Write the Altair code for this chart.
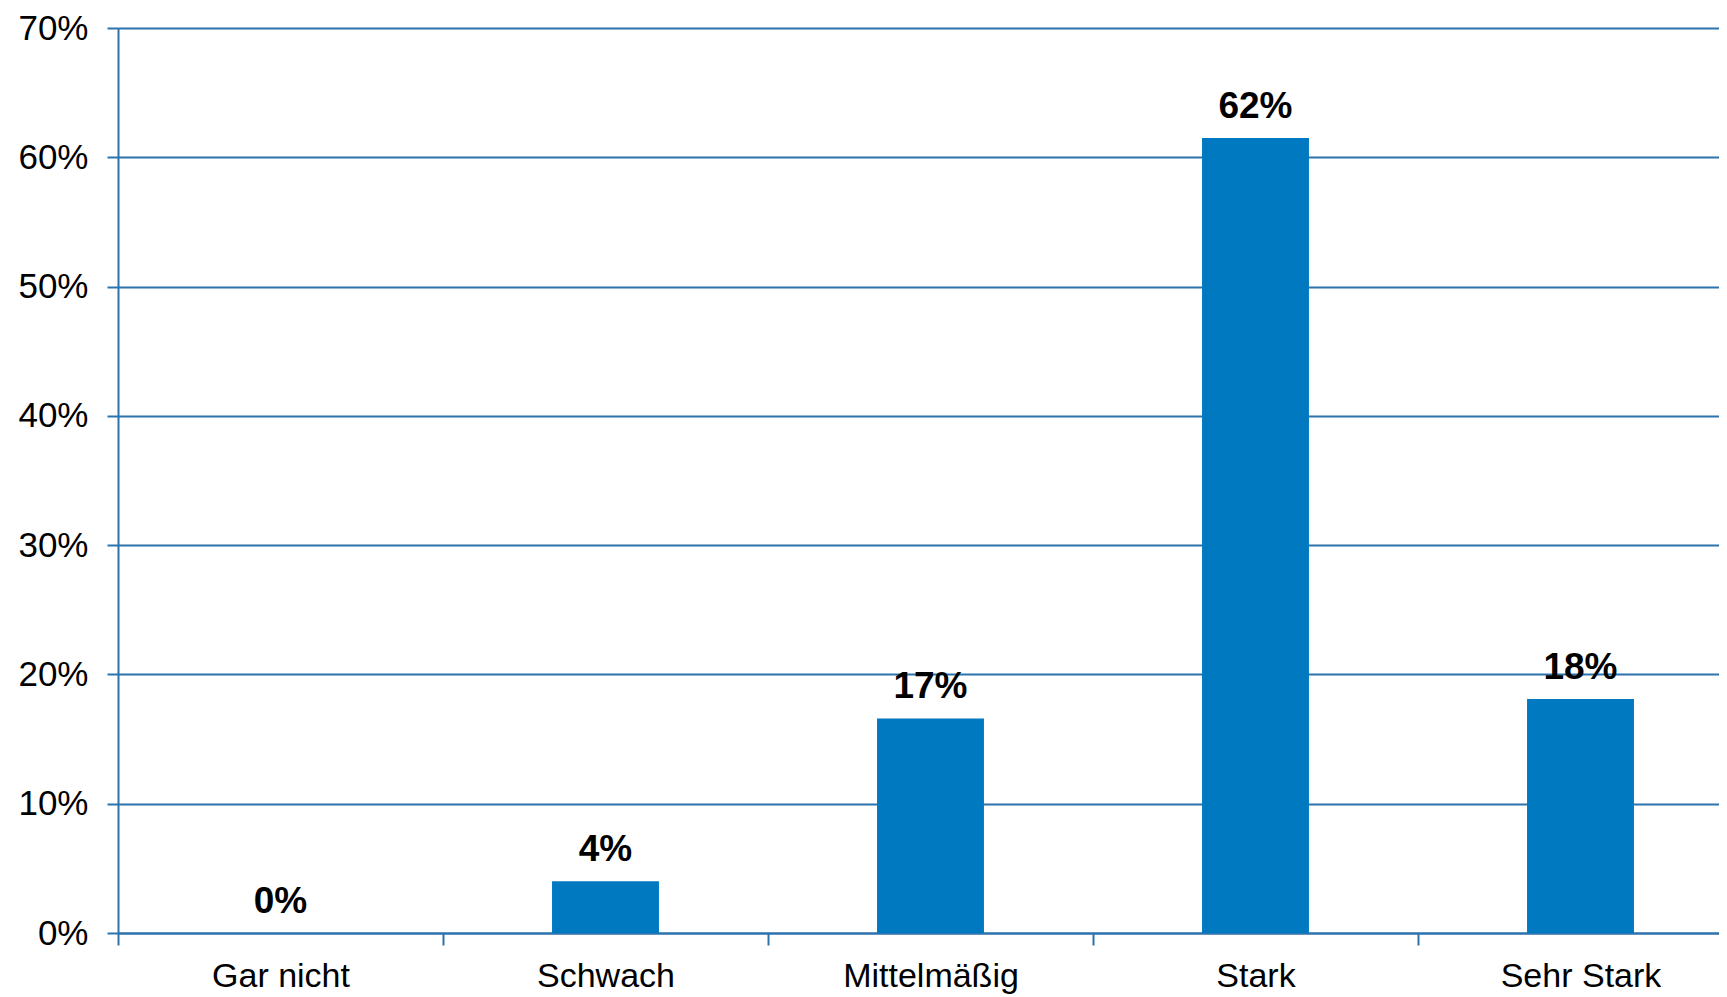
import altair as alt
import pandas as pd

categories = ["Gar nicht", "Schwach", "Mittelmäßig", "Stark", "Sehr Stark"]
values = [0.0, 4.0, 16.6, 61.5, 18.1]
labels = ["0%", "4%", "17%", "62%", "18%"]
y_ticks = [0, 0.1, 0.2, 0.3, 0.4, 0.5, 0.6, 0.7]

df = pd.DataFrame({"cat": categories, "val": [v / 100 for v in values], "label": labels})

AX = "#2C72AD"
BAR = "#0079C1"
FONT = "Liberation Sans"

x = alt.X(
    "cat:N", sort=categories, title=None,
    scale=alt.Scale(range=[0, 1625], paddingInner=0, paddingOuter=0),
    axis=alt.Axis(labelAngle=0, tickBand="extent", domainColor=AX, tickColor=AX,
                  domainWidth=2, tickWidth=2, tickSize=12, labelPadding=14,
                  labelFontSize=34, labelFont=FONT, labelColor="black", grid=False,
                  labelLimit=0),
)
y = alt.Y(
    "val:Q", title=None, scale=alt.Scale(domain=[0, 0.7], nice=False),
    axis=alt.Axis(values=y_ticks, format=".0%", domainColor=AX, tickColor=AX,
                  domainWidth=2, tickWidth=2, tickSize=11, labelPadding=19,
                  labelFontSize=35, labelFont=FONT, labelColor="black",
                  grid=True, gridColor=AX, gridWidth=2),
)

bars = alt.Chart(df).mark_bar(color=BAR, width=alt.RelativeBandSize(0.329)).encode(x=x, y=y)
text = alt.Chart(df).mark_text(
    baseline="alphabetic", dy=-20, fontWeight="bold", fontSize=37, font=FONT, color="black"
).encode(x=alt.X("cat:N", sort=categories), y=alt.Y("val:Q"), text="label:N")

chart = (bars + text).properties(
    width=1601, height=905,
    autosize=alt.AutoSizeParams(type="none"),
    padding={"left": 110, "top": 20, "right": 0, "bottom": 64},
).configure_view(stroke=None)

chart.save("out.html", embed_options={"renderer": "svg", "actions": False})
